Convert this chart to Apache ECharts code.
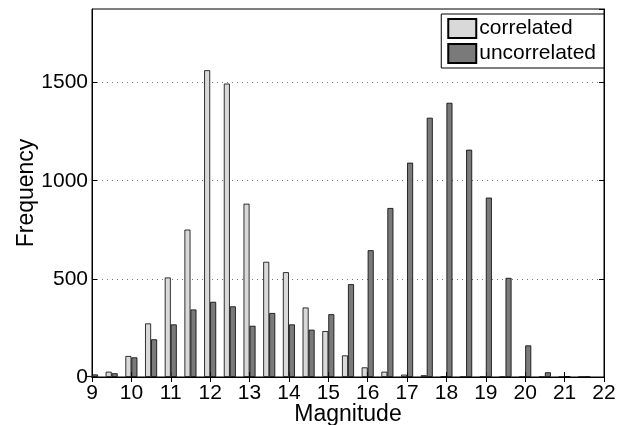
<!DOCTYPE html>
<html>
<head>
<meta charset="utf-8">
<script src="https://cdn.jsdelivr.net/npm/echarts@6/dist/echarts.min.js"></script>
<style>
  html, body { margin: 0; padding: 0; background: #fff; }
  #chart { width: 630px; height: 425px; }
</style>
</head>
<body>
<div id="chart"></div>
<script>
// bin centres (magnitude)
const magnitudes = [9, 9.5, 10, 10.5, 11, 11.5, 12, 12.5, 13, 13.5, 14, 14.5, 15, 15.5,
  16, 16.5, 17, 17.5, 18, 18.5, 19, 19.5, 20, 20.5, 21, 21.5]
const correlated = [5, 27, 107, 273, 507, 751, 1563, 1495, 883, 587, 534, 354, 234, 110,
  49, 27, 12, 9, 2, 0, 0, 0, 0, 0, 0, 0]
const uncorrelated = [13, 19, 100, 192, 268, 344, 383, 360, 261, 326, 268, 241, 320, 473,
  646, 861, 1092, 1321, 1397, 1158, 914, 505, 161, 24, 4, 1]

const font = '"Liberation Sans", Arial, sans-serif'

const chart = echarts.init(document.getElementById('chart'))

const pairs = (ys) => magnitudes.map((x, i) => [x, ys[i]])

const option = {
  animation: false,
  textStyle: { fontFamily: font, color: '#000' },
  grid: {
    left: 92,
    right: 26,
    top: 9,
    bottom: 48,
    outerBoundsMode: 'none',
    show: true,
    borderColor: '#000',
    borderWidth: 1
  },
  legend: {
    orient: 'vertical',
    right: 26,
    top: 14,
    padding: [4, 8, 4, 6],
    itemWidth: 28,
    itemHeight: 19,
    itemGap: 4,
    backgroundColor: '#fff',
    borderColor: '#000',
    borderWidth: 1,
    textStyle: { fontSize: 21, fontFamily: font, color: '#000', padding: [0, 0, 0, -2] },
    data: [
      { name: 'correlated', icon: 'rect' },
      { name: 'uncorrelated', icon: 'rect' }
    ]
  },
  xAxis: [
    {
      type: 'value',
      min: 9,
      max: 22,
      interval: 1,
      name: 'Magnitude',
      nameLocation: 'middle',
      nameGap: 26,
      nameMoveOverlap: false,
      nameTextStyle: { fontSize: 23, fontFamily: font, color: '#000' },
      axisLine: { show: true, onZero: false, lineStyle: { color: '#000' } },
      axisTick: { show: true, inside: true, length: 5, lineStyle: { color: '#000' } },
      axisLabel: { fontSize: 21, color: '#000', margin: 6, fontFamily: font },
      splitLine: { show: false }
    },
    {
      type: 'value',
      position: 'top',
      min: 9,
      max: 22,
      interval: 1,
      axisLine: { show: true, lineStyle: { color: '#000' } },
      axisTick: { show: true, inside: true, length: 5, lineStyle: { color: '#000' } },
      axisLabel: { show: false },
      splitLine: { show: false }
    }
  ],
  yAxis: [
    {
      type: 'value',
      min: 0,
      max: 1875,
      interval: 500,
      name: 'Frequency',
      nameLocation: 'middle',
      nameGap: 54,
      nameMoveOverlap: false,
      nameTextStyle: { fontSize: 23, fontFamily: font, color: '#000' },
      axisLine: { show: true, lineStyle: { color: '#000' } },
      axisTick: { show: true, inside: true, length: 5, lineStyle: { color: '#000' } },
      axisLabel: {
        fontSize: 21,
        color: '#000',
        margin: 4,
        fontFamily: font,
        showMaxLabel: false,
        formatter: (v) => String(v)
      },
      splitLine: { show: true, lineStyle: { color: '#777', type: [1, 4], width: 1 } }
    },
    {
      type: 'value',
      position: 'right',
      min: 0,
      max: 1875,
      interval: 500,
      axisLine: { show: true, lineStyle: { color: '#000' } },
      axisTick: { show: true, inside: true, length: 5, lineStyle: { color: '#000' } },
      axisLabel: { show: false },
      splitLine: { show: false }
    }
  ],
  series: [
    {
      name: 'correlated',
      type: 'bar',
      xAxisIndex: 0,
      yAxisIndex: 0,
      barWidth: 6,
      barGap: '0%',
      clip: true,
      itemStyle: { color: '#d9d9d9', borderColor: '#000', borderWidth: 0.8 },
      data: pairs(correlated)
    },
    {
      name: 'uncorrelated',
      type: 'bar',
      xAxisIndex: 0,
      yAxisIndex: 0,
      barWidth: 6,
      barGap: '0%',
      clip: true,
      itemStyle: { color: '#7a7a7a', borderColor: '#000', borderWidth: 0.8 },
      data: pairs(uncorrelated)
    }
  ]
}

chart.setOption(option)
</script>
</body>
</html>
